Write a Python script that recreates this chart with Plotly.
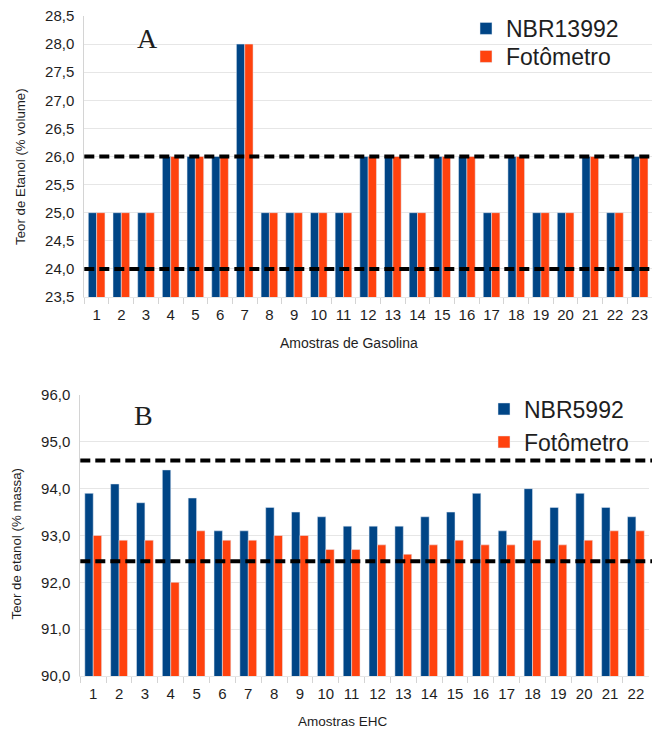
import plotly.graph_objects as go

W, H = 652, 729

# Panel A: gasoline samples (% volume)
amostras_gasolina = [str(i) for i in range(1, 24)]
nbr13992 = [25, 25, 25, 26, 26, 26, 28, 25, 25, 25, 25, 26, 26, 25, 26, 26, 25, 26, 25, 25, 26, 25, 26]
fotometro_a = [25, 25, 25, 26, 26, 26, 28, 25, 25, 25, 25, 26, 26, 25, 26, 26, 25, 26, 25, 25, 26, 25, 26]
limites_a = [26.0, 24.0]
yticks_a = [23.5, 24.0, 24.5, 25.0, 25.5, 26.0, 26.5, 27.0, 27.5, 28.0, 28.5]

# Panel B: hydrated ethanol (EHC) samples (% mass)
amostras_ehc = [str(i) for i in range(1, 23)]
nbr5992 = [93.9, 94.1, 93.7, 94.4, 93.8, 93.1, 93.1, 93.6, 93.5, 93.4, 93.2,
           93.2, 93.2, 93.4, 93.5, 93.9, 93.1, 94.0, 93.6, 93.9, 93.6, 93.4]
fotometro_b = [93.0, 92.9, 92.9, 92.0, 93.1, 92.9, 92.9, 93.0, 93.0, 92.7, 92.7,
               92.8, 92.6, 92.8, 92.9, 92.8, 92.8, 92.9, 92.8, 92.9, 93.1, 93.1]
limites_b = [94.6, 92.45]
yticks_b = [90.0, 91.0, 92.0, 93.0, 94.0, 95.0, 96.0]

BLUE = "#004586"
ORANGE = "#ff420e"
GRID = "#e6e6e6"
TXT = "#1e1e1e"
FONT = "Liberation Sans, Arial, sans-serif"


def px_x(p):
    return p / W


def px_y(p):
    return 1 - p / H


fig = go.Figure()

# each series gets its own legend box so the two rows can be spaced freely
bw_a = 0.337
fig.add_trace(go.Bar(x=amostras_gasolina, y=nbr13992, name="NBR13992", marker_color=BLUE,
                     width=bw_a, offset=-bw_a, xaxis="x", yaxis="y", legend="legend2"))
fig.add_trace(go.Bar(x=amostras_gasolina, y=fotometro_a, name="Fotômetro", marker_color=ORANGE,
                     width=bw_a, offset=0, xaxis="x", yaxis="y", legend="legend3"))

bw_b = 0.325
fig.add_trace(go.Bar(x=amostras_ehc, y=nbr5992, name="NBR5992", marker_color=BLUE,
                     width=bw_b, offset=-bw_b, xaxis="x2", yaxis="y2", legend="legend4"))
fig.add_trace(go.Bar(x=amostras_ehc, y=fotometro_b, name="Fotômetro", marker_color=ORANGE,
                     width=bw_b, offset=0, xaxis="x2", yaxis="y2", legend="legend5"))

xaxis_common = dict(
    type="category", tickson="boundaries", ticks="outside", ticklen=6,
    tickcolor="#d4d4d4", showgrid=False, showline=True, linecolor=GRID, linewidth=1,
    tickfont=dict(size=15, color=TXT, family=FONT), zeroline=False, tickangle=0,
    automargin=False, ticklabelstandoff=4,
)
yaxis_common = dict(
    showgrid=True, gridcolor=GRID, gridwidth=1, showline=True, linecolor="#d4d4d4",
    linewidth=1, ticks="", tickformat=".1f", zeroline=False, automargin=False,
    tickfont=dict(size=15, color=TXT, family=FONT), ticklabelstandoff=6,
)


def legend_box(xpx, ypx):
    return dict(x=px_x(xpx), y=px_y(ypx), xanchor="left", yanchor="middle",
                bgcolor="rgba(0,0,0,0)", font=dict(size=23, color=TXT, family=FONT),
                itemclick=False, itemdoubleclick=False, visible=True)


fig.update_layout(
    width=W, height=H,
    margin=dict(l=0, r=0, t=0, b=0),
    paper_bgcolor="white", plot_bgcolor="white",
    separators=",.",
    barmode="group",
    showlegend=True,
    font=dict(family=FONT, color=TXT),
    xaxis=dict(domain=[px_x(84.3), 1.0], anchor="y",
               range=[-0.5, len(amostras_gasolina) - 0.5], **xaxis_common),
    yaxis=dict(domain=[px_y(297), px_y(16)], anchor="x", range=[23.5, 28.5],
               tickvals=yticks_a, **yaxis_common),
    xaxis2=dict(domain=[px_x(80.3), px_x(648.8)], anchor="y2",
                range=[-0.5, len(amostras_ehc) - 0.5], **xaxis_common),
    yaxis2=dict(domain=[px_y(676), px_y(395)], anchor="x2", range=[90, 96],
                tickvals=yticks_b, **yaxis_common),
    legend2=legend_box(466, 28.5),
    legend3=legend_box(466, 56.5),
    legend4=legend_box(484, 409),
    legend5=legend_box(484, 442),
)

# Reference limits as thick dashed lines
for v in limites_a:
    fig.add_shape(type="line", xref="x domain", yref="y", x0=0, x1=1, y0=v, y1=v,
                  line=dict(color="black", width=4, dash="10px,5px"), layer="above")
for v in limites_b:
    fig.add_shape(type="line", xref="x2 domain", yref="y2", x0=0, x1=1.01, y0=v, y1=v,
                  line=dict(color="black", width=4, dash="10px,5px"), layer="above")

# Panel letters and axis titles
annotations = [
    dict(text="A", x=px_x(147), y=px_y(39), font=dict(size=28, family="Liberation Serif, serif", color=TXT)),
    dict(text="B", x=px_x(143), y=px_y(415), font=dict(size=28, family="Liberation Serif, serif", color=TXT)),
    dict(text="Amostras de Gasolina", x=px_x(348.5), y=px_y(343), font=dict(size=14, family=FONT, color=TXT)),
    dict(text="Amostras EHC", x=px_x(343), y=px_y(721), font=dict(size=13.5, family=FONT, color=TXT)),
    dict(text="Teor de Etanol (% volume)", x=px_x(20), y=px_y(167), textangle=-90,
         font=dict(size=13.3, family=FONT, color=TXT)),
    dict(text="Teor de etanol (% massa)", x=px_x(15.5), y=px_y(544), textangle=-90,
         font=dict(size=13.3, family=FONT, color=TXT)),
]
for a in annotations:
    fig.add_annotation(xref="paper", yref="paper", showarrow=False,
                       xanchor="center", yanchor="middle", **a)

fig.write_html("out.html")
